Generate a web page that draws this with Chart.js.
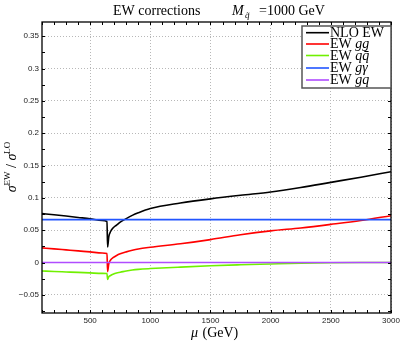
<!DOCTYPE html>
<html>
<head>
<meta charset="utf-8">
<script src="https://cdn.jsdelivr.net/npm/chart.js@4/dist/chart.umd.min.js"></script>
<style>
  html, body { margin: 0; padding: 0; background: #fff; }
  #wrap { width: 403px; height: 343px; }
</style>
</head>
<body>
<div id="wrap"><canvas id="chart" width="403" height="343"></canvas></div>
<script>
// scale mu (GeV)
var mu = [100, 200, 300, 400, 500, 600, 640, 645, 655, 670, 690, 720, 750, 800, 850, 900, 1000, 1250, 1500, 1750, 2000, 2250, 2500, 2750, 3000];

// sigma^EW / sigma^LO
var nloEW = [0.0757, 0.0740, 0.0720, 0.0698, 0.0676, 0.0650, 0.0635, 0.0240, 0.0400, 0.0480, 0.0535, 0.0580, 0.0625, 0.0680, 0.0730, 0.0770, 0.0835, 0.0920, 0.0985, 0.1040, 0.1090, 0.1160, 0.1240, 0.1320, 0.1405];
var ewGG = [0.0227, 0.0212, 0.0196, 0.0180, 0.0165, 0.0148, 0.0140, -0.0140, -0.0020, 0.0040, 0.0075, 0.0110, 0.0135, 0.0165, 0.0190, 0.0210, 0.0236, 0.0290, 0.0355, 0.0430, 0.0490, 0.0535, 0.0590, 0.0650, 0.0725];
var ewQQ = [-0.0130, -0.0138, -0.0145, -0.0152, -0.0160, -0.0167, -0.0170, -0.0260, -0.0220, -0.0200, -0.0180, -0.0160, -0.0150, -0.0130, -0.0115, -0.0105, -0.0093, -0.0070, -0.0050, -0.0035, -0.0022, -0.0010, -0.0003, 0.0000, 0.0000];
var ewGA = [0.0664, 0.0664, 0.0664, 0.0664, 0.0664, 0.0664, 0.0664, 0.0664, 0.0664, 0.0664, 0.0664, 0.0664, 0.0664, 0.0664, 0.0664, 0.0664, 0.0664, 0.0664, 0.0664, 0.0664, 0.0664, 0.0664, 0.0664, 0.0664, 0.0664];
var ewGQ = [0, 0, 0, 0, 0, 0, 0, 0, 0, 0, 0, 0, 0, 0, 0, 0, 0, 0, 0, 0, 0, 0, 0, 0, 0];

var xTicks = [500, 1000, 1500, 2000, 2500, 3000];
var yTicks = [-0.05, 0, 0.05, 0.1, 0.15, 0.2, 0.25, 0.3, 0.35];

var names = [["NLO EW", ""], ["EW ", "gg"], ["EW ", "qq\u0304"], ["EW ", "g\u03b3"], ["EW ", "gq"]];
var colors = ["#000000", "#ff0000", "#70f000", "#2255ff", "#b04cff"];
var series = [nloEW, ewGG, ewQQ, ewGA, ewGQ];

var SERIF = '"Liberation Serif", "DejaVu Serif", serif';

function points(ys) {
    return mu.map(function (m, i) { return {x: m, y: ys[i]}; });
}

var datasets = series.map(function (s, i) {
    return {
        label: names[i].join(""),
        data: points(s),
        borderColor: colors[i],
        borderWidth: 1.6,
        pointRadius: 0,
        fill: false,
        cubicInterpolationMode: "monotone"
    };
});
// draw purple, blue first so black stays on top
datasets.reverse();

// frame, inward ticks, titles and legend
var decor = {
    id: "decor",
    afterDraw: function (chart) {
        var c = chart.ctx, a = chart.chartArea;
        var sx = chart.scales.x, sy = chart.scales.y;
        c.save();
        c.strokeStyle = "#000";
        c.lineWidth = 1;
        c.beginPath();
        for (var m = 100; m <= 3000; m += 100) {
            var px = Math.round(sx.getPixelForValue(m)) + 0.5;
            c.moveTo(px, a.bottom); c.lineTo(px, a.bottom - 3);
            c.moveTo(px, a.top); c.lineTo(px, a.top + 3);
        }
        for (var k = -3; k <= 14; k++) {
            var py = Math.round(sy.getPixelForValue(k * 0.025)) + 0.5;
            if (py < a.top || py > a.bottom) continue;
            c.moveTo(a.left, py); c.lineTo(a.left + 3, py);
            c.moveTo(a.right, py); c.lineTo(a.right - 3, py);
        }
        c.stroke();
        c.lineWidth = 1.3;
        c.strokeRect(a.left, a.top, a.right - a.left, a.bottom - a.top);

        // title
        c.fillStyle = "#000";
        c.textBaseline = "alphabetic";
        c.textAlign = "left";
        c.font = "14px " + SERIF;
        c.fillText("EW corrections", 113, 15);
        c.font = "italic 14px " + SERIF;
        c.fillText("M", 232, 15);
        c.font = "italic 9px " + SERIF;
        c.fillText("q\u0303", 245, 18);
        c.font = "14px " + SERIF;
        c.fillText("=1000 GeV", 259, 15);

        // x title
        c.textAlign = "left";
        c.font = "italic 14px " + SERIF;
        c.fillText("\u03bc", 191, 337);
        c.font = "14px " + SERIF;
        c.fillText(" (GeV)", 199, 337);

        // y title
        c.save();
        c.translate(16, 167);
        c.rotate(-Math.PI / 2);
        var parts = [["italic 14px ", "\u03c3", 0], ["9px ", "EW", -6], ["14px ", " / ", 0],
                     ["italic 14px ", "\u03c3", 0], ["9px ", "LO", -6]];
        var w = 0;
        parts.forEach(function (p) { c.font = p[0] + SERIF; w += c.measureText(p[1]).width; });
        var x0 = -w / 2;
        parts.forEach(function (p) {
            c.font = p[0] + SERIF;
            c.fillText(p[1], x0, p[2]);
            x0 += c.measureText(p[1]).width;
        });
        c.restore();

        // legend
        var lx = 302, ly = 26, lw = 89, lh = 62;
        c.fillStyle = "#fff";
        c.fillRect(lx, ly, lw, lh);
        c.strokeStyle = "#555";
        c.lineWidth = 1.5;
        c.strokeRect(lx, ly, lw, lh);
        var rows = [32.7, 44, 55.5, 68, 80];
        names.forEach(function (n, i) {
            c.strokeStyle = colors[i];
            c.lineWidth = 1.6;
            c.beginPath();
            c.moveTo(306, rows[i]); c.lineTo(329, rows[i]);
            c.stroke();
            c.fillStyle = "#000";
            c.font = "14px " + SERIF;
            c.fillText(n[0], 330, rows[i] + 4);
            var tw = c.measureText(n[0]).width;
            c.font = "italic 14px " + SERIF;
            c.fillText(n[1], 330 + tw, rows[i] + 4);
        });
        c.restore();
    }
};

new Chart(document.getElementById("chart").getContext("2d"), {
    type: "line",
    data: { datasets: datasets },
    options: {
        responsive: false,
        animation: false,
        layout: { padding: { top: 22, right: 12, left: 0, bottom: 0 } },
        plugins: { legend: { display: false }, tooltip: { enabled: false } },
        scales: {
            x: {
                type: "linear",
                min: 100,
                max: 3000,
                afterBuildTicks: function (s) { s.ticks = xTicks.map(function (v) { return {value: v}; }); },
                afterFit: function (s) { s.height = 30; },
                border: { display: false, dash: [1, 2] },
                grid: { drawTicks: false, color: "#b8b8b8", lineWidth: 1 },
                ticks: { padding: 3, color: "#222", maxRotation: 0,
                         font: { family: '"Liberation Sans", Arial, sans-serif', size: 8 },
                         callback: function (v) { return String(v); } }
            },
            y: {
                min: -0.078,
                max: 0.372,
                afterBuildTicks: function (s) { s.ticks = yTicks.map(function (v) { return {value: v}; }); },
                afterFit: function (s) { s.width = 42; },
                border: { display: false, dash: [1, 2] },
                grid: { drawTicks: false, color: "#b8b8b8", lineWidth: 1 },
                ticks: { padding: 3, color: "#222",
                         font: { family: '"Liberation Sans", Arial, sans-serif', size: 8 },
                         callback: function (v) {
                             var s = String(Math.round(v * 100) / 100);
                             return s.replace("-", "\u2212");
                         } }
            }
        }
    },
    plugins: [decor]
});
</script>
</body>
</html>
